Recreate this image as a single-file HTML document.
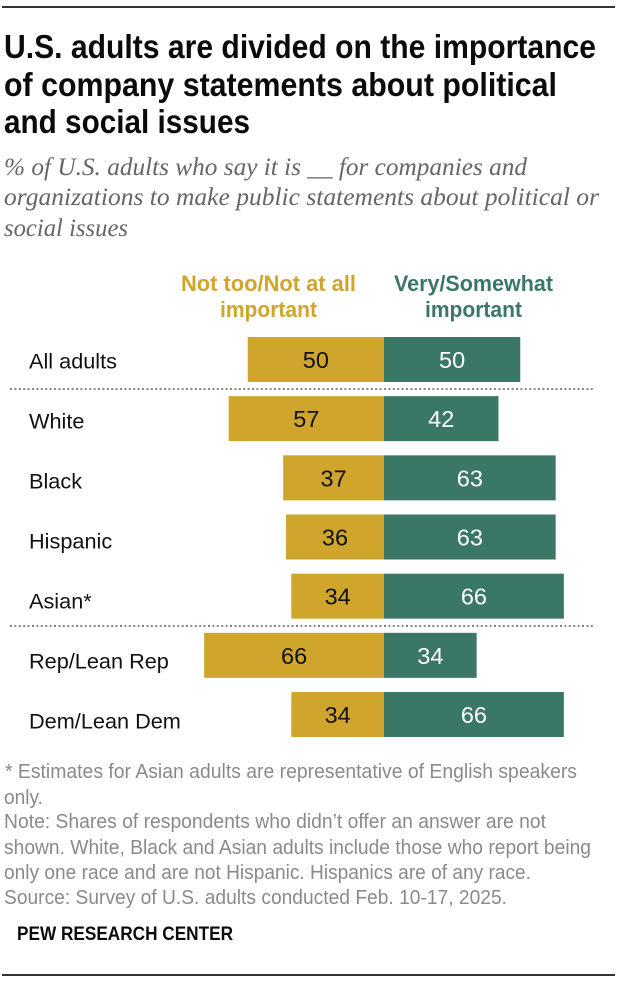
<!DOCTYPE html>
<html lang="en">
<head>
<meta charset="utf-8">
<title>U.S. adults are divided on the importance of company statements</title>
<style>
html,body{margin:0;padding:0;background:#fff;width:620px;height:988px;overflow:hidden}
svg{display:block}
text{font-family:"Liberation Sans",sans-serif}
.title{font-size:33px;font-weight:bold;fill:#0b0b0b}
.sub{font-family:"Liberation Serif",serif;font-style:italic;font-size:25px;fill:#666}
.head{font-size:22px;font-weight:bold}
.note{font-size:20px;fill:#8a8a8a}
.cat{font-size:21.7px;fill:#111}
.val{font-size:23.5px;text-anchor:middle}
</style>
</head>
<body>
<svg id="chart" xmlns="http://www.w3.org/2000/svg" width="620" height="988" viewBox="0 0 620 988">
  <rect x="2" y="6" width="613" height="2" fill="#333"/>
  <g>
    <text class="title" x="4" y="58" textLength="592" lengthAdjust="spacingAndGlyphs">U.S. adults are divided on the importance</text>
    <text class="title" x="4" y="96" textLength="553" lengthAdjust="spacingAndGlyphs">of company statements about political</text>
    <text class="title" x="4" y="133" textLength="246" lengthAdjust="spacingAndGlyphs">and social issues</text>
  </g>
  <g>
    <text class="sub" x="4" y="175" textLength="523" lengthAdjust="spacingAndGlyphs">% of U.S. adults who say it is __ for companies and</text>
    <text class="sub" x="4" y="205" textLength="595" lengthAdjust="spacingAndGlyphs">organizations to make public statements about political or</text>
    <text class="sub" x="4" y="236" textLength="124" lengthAdjust="spacingAndGlyphs">social issues</text>
  </g>
  <g>
    <text class="head" x="181" y="291" textLength="175" lengthAdjust="spacingAndGlyphs" fill="#cfa52b">Not too/Not at all</text>
    <text class="head" x="220" y="317" textLength="97" lengthAdjust="spacingAndGlyphs" fill="#cfa52b">important</text>
  </g>
  <g>
    <text class="head" x="394" y="291" textLength="159" lengthAdjust="spacingAndGlyphs" fill="#3a7767">Very/Somewhat</text>
    <text class="head" x="425" y="317" textLength="97" lengthAdjust="spacingAndGlyphs" fill="#3a7767">important</text>
  </g>
  <g id="rows"></g>
  <line x1="10" x2="594" y1="389" y2="389" stroke="#888" stroke-width="2" stroke-dasharray="2 2.4"/>
  <line x1="10" x2="594" y1="626" y2="626" stroke="#888" stroke-width="2" stroke-dasharray="2 2.4"/>
  <g>
    <text class="note" x="5" y="778" textLength="572" lengthAdjust="spacingAndGlyphs">* Estimates for Asian adults are representative of English speakers</text>
    <text class="note" x="4" y="804" textLength="39" lengthAdjust="spacingAndGlyphs">only.</text>
    <text class="note" x="4" y="828" textLength="542" lengthAdjust="spacingAndGlyphs">Note: Shares of respondents who didn’t offer an answer are not</text>
    <text class="note" x="4" y="854" textLength="587" lengthAdjust="spacingAndGlyphs">shown. White, Black and Asian adults include those who report being</text>
    <text class="note" x="4" y="879" textLength="527" lengthAdjust="spacingAndGlyphs">only one race and are not Hispanic. Hispanics are of any race.</text>
    <text class="note" x="4" y="904" textLength="503" lengthAdjust="spacingAndGlyphs">Source: Survey of U.S. adults conducted Feb. 10-17, 2025.</text>
  </g>
  <text x="17" y="940" font-size="19" font-weight="bold" fill="#0b0b0b" textLength="216" lengthAdjust="spacingAndGlyphs">PEW RESEARCH CENTER</text>
  <rect x="2" y="974" width="613" height="2" fill="#333"/>
</svg>
<script>
const categories = ["All adults", "White", "Black", "Hispanic", "Asian*", "Rep/Lean Rep", "Dem/Lean Dem"];
const notImportant = [50, 57, 37, 36, 34, 66, 34];
const important = [50, 42, 63, 63, 66, 34, 66];

const NS = "http://www.w3.org/2000/svg";
const ZERO_X = 384, PX_PER_UNIT = 2.725, TOP_Y = 337, ROW_STEP = 59.17, BAR_H = 45;
const LABEL_TOP = 368.5, LABEL_STEP = 60;
const xScale = v => v * PX_PER_UNIT;
const yScale = i => TOP_Y + i * ROW_STEP;
const labelY = i => LABEL_TOP + i * LABEL_STEP;
const rows = document.getElementById("rows");

function svgEl(tag, attrs, text) {
  const el = document.createElementNS(NS, tag);
  for (const k in attrs) el.setAttribute(k, attrs[k]);
  if (text !== undefined) el.textContent = text;
  return el;
}

categories.forEach((cat, i) => {
  const y = yScale(i);
  const left = xScale(notImportant[i]);
  const right = xScale(important[i]);

  const label = svgEl("text", { class: "cat", x: 29, y: labelY(i) }, cat);
  
  
  rows.appendChild(label);

  const barL = svgEl("rect", { x: ZERO_X - left, y: y, width: left, height: BAR_H, fill: "#cfa52b" });
  
  
  rows.appendChild(barL);

  const barR = svgEl("rect", { x: ZERO_X, y: y, width: right, height: BAR_H, fill: "#3a7767" });
  
  
  rows.appendChild(barR);

  const valL = svgEl("text", { class: "val", x: ZERO_X - left / 2, y: y + 31, fill: "#111" }, notImportant[i]);
  
  
  rows.appendChild(valL);

  const valR = svgEl("text", { class: "val", x: ZERO_X + right / 2, y: y + 31, fill: "#fff" }, important[i]);
  
  
  rows.appendChild(valR);
});
</script>
</body>
</html>
